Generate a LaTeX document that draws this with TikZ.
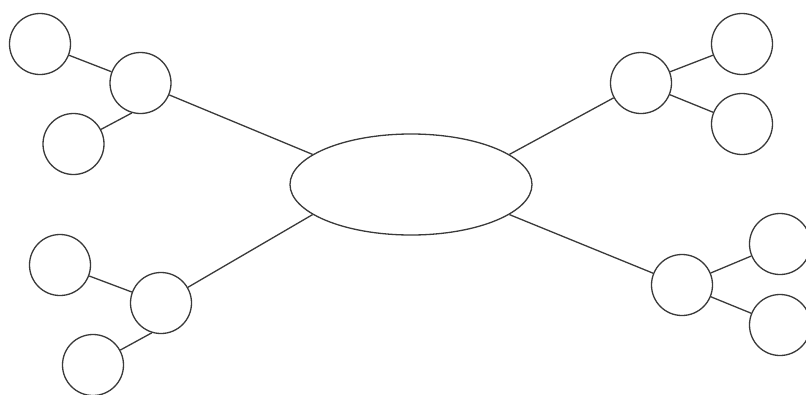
\documentclass[tikz,border=0pt]{standalone}
\usetikzlibrary{shapes.geometric}
\definecolor{mmink}{HTML}{3A3A3A}
\definecolor{mmpage}{HTML}{FFFFFF}
\tikzset{
  mmleaf/.style={
    draw=mmink,
    circle,
    line width=1.3pt,
    fill=mmpage,
    minimum size=61pt,
    inner sep=0pt
  },
  mmhub/.style={
    draw=mmink,
    ellipse,
    line width=1.3pt,
    fill=mmpage,
    minimum width=242pt,
    minimum height=101pt,
    inner sep=0pt
  },
  mmedge/.style={
    line width=1.3pt,
    color=mmink
  }
}
\begin{document}
\begin{tikzpicture}[x=1pt,y=-1pt]
  \useasboundingbox[fill=mmpage] (0,0) rectangle (806,394);

  \node[mmhub] (hub) at (411,184.5) {};

  \node[mmleaf] (topleft) at (140.5,83) {};
  \node[mmleaf] (topleftup) at (40,44) {};
  \node[mmleaf] (topleftdown) at (73.5,144) {};

  \node[mmleaf] (botleft) at (161,303) {};
  \node[mmleaf] (botleftup) at (60,265) {};
  \node[mmleaf] (botleftdown) at (93,365) {};

  \node[mmleaf] (topright) at (641,83) {};
  \node[mmleaf] (toprightup) at (742,44) {};
  \node[mmleaf] (toprightdown) at (742,124) {};

  \node[mmleaf] (botright) at (682,285) {};
  \node[mmleaf] (botrightup) at (780,244) {};
  \node[mmleaf] (botrightdown) at (780,325) {};

  \draw[mmedge] (topleft) -- (hub.163);
  \draw[mmedge] (topleftup) -- (topleft);
  \draw[mmedge] (topleftdown) -- (topleft.254);

  \draw[mmedge] (botleft) -- (hub.197);
  \draw[mmedge] (botleftup) -- (botleft);
  \draw[mmedge] (botleftdown) -- (botleft.253);

  \draw[mmedge] (topright) -- (hub.17);
  \draw[mmedge] (topright) -- (toprightup);
  \draw[mmedge] (topright) -- (toprightdown);

  \draw[mmedge] (botright) -- (hub.-17);
  \draw[mmedge] (botright) -- (botrightup);
  \draw[mmedge] (botright) -- (botrightdown);
\end{tikzpicture}
\end{document}
